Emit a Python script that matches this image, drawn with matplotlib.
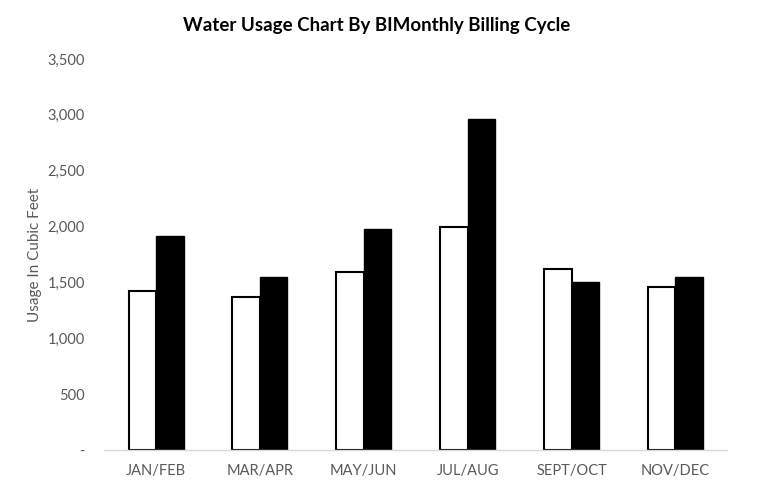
import matplotlib.pyplot as plt
import numpy as np
from matplotlib.ticker import FuncFormatter

cycles = ["JAN/FEB", "MAR/APR", "MAY/JUN", "JUL/AUG", "SEPT/OCT", "NOV/DEC"]
usage_white = [1425, 1366, 1592, 1992, 1622, 1461]
usage_black = [1917, 1545, 1980, 2958, 1506, 1550]
yticks = [0, 500, 1000, 1500, 2000, 2500, 3000, 3500]

plt.rcParams['font.family'] = ['Lato', 'DejaVu Sans']

fig = plt.figure(figsize=(7.6, 4.91), dpi=100)
ax = fig.add_axes([0.137, 0.0835, 0.82, 0.7965])

x = np.arange(len(cycles))
w = 0.265
ax.bar(x - w / 2, usage_white, w, color="white", edgecolor="black", linewidth=1.5)
ax.bar(x + w / 2, usage_black, w, color="black", edgecolor="black", linewidth=1.0)

ax.set_xlim(-0.5, len(cycles) - 0.5)
ax.set_ylim(0, 3500)
ax.set_yticks(yticks)
ax.yaxis.set_major_formatter(FuncFormatter(lambda v, p: "-" if v == 0 else f"{int(v):,}"))
ax.set_xticks(x)
ax.set_xticklabels(cycles)

for s in ["top", "right", "left"]:
    ax.spines[s].set_visible(False)
ax.spines["bottom"].set_color("#d9d9d9")
ax.spines["bottom"].set_linewidth(1.0)
ax.tick_params(axis="both", length=0, colors="#595959", labelsize=10.5)
ax.tick_params(axis="y", pad=14)
ax.tick_params(axis="x", pad=10)

ax.set_ylabel("Usage In Cubic Feet", color="#595959", fontsize=11, labelpad=4)
fig.suptitle("Water Usage Chart By BIMonthly Billing Cycle", fontsize=13.5,
             fontweight="bold", x=0.495, y=0.965)

fig.savefig("out.png", dpi=100)
